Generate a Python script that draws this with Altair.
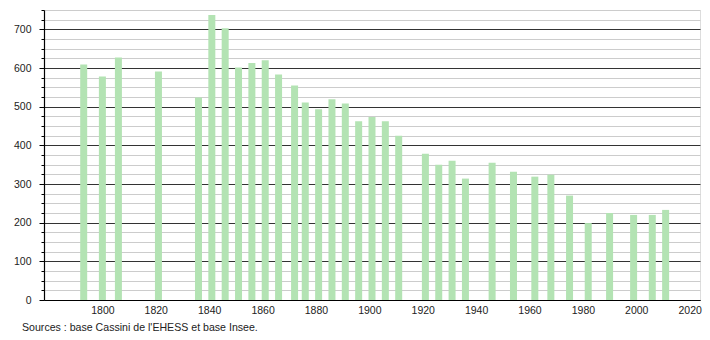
import altair as alt
import pandas as pd

years = [1793, 1800, 1806, 1821, 1836, 1841, 1846, 1851, 1856, 1861, 1866,
         1872, 1876, 1881, 1886, 1891, 1896, 1901, 1906, 1911, 1921, 1926,
         1931, 1936, 1946, 1954, 1962, 1968, 1975, 1982, 1990, 1999, 2006, 2011]
population = [609, 578, 627, 591, 524, 737, 703, 601, 613, 620, 583,
              555, 511, 493, 519, 508, 462, 473, 462, 425, 378, 350,
              360, 314, 355, 332, 319, 324, 270, 199, 225, 220, 220, 233]
x_ticks = [1800, 1820, 1840, 1860, 1880, 1900, 1920, 1940, 1960, 1980, 2000, 2020]
y_ticks = list(range(0, 751, 25))

df = pd.DataFrame({"year": years, "pop": population})

FONT = "Liberation Sans"

chart = alt.Chart(df).mark_bar(color="#b3e3b3", size=7).encode(
    x=alt.X("year:Q",
            scale=alt.Scale(domain=[1780, 2022], nice=False, zero=False),
            axis=alt.Axis(values=x_ticks, format="d", title=None, grid=False,
                          ticks=False, domainColor="#000", domainWidth=1.2,
                          labelFont=FONT, labelFontSize=10.5, labelColor="#222",
                          labelPadding=5, labelOverlap=False)),
    y=alt.Y("pop:Q",
            scale=alt.Scale(domain=[0, 750], nice=False),
            axis=alt.Axis(values=y_ticks, title=None, grid=True,
                          gridColor={"condition": {"test": "datum.value % 100 === 0", "value": "#333333"}, "value": "#cccccc"},
                          gridWidth=1,
                          tickColor="#000",
                          tickSize={"condition": {"test": "datum.value % 100 === 0", "value": 5}, "value": 3},
                          labelExpr="datum.value % 100 === 0 ? datum.label : ''",
                          domainColor="#000", domainWidth=1.2,
                          labelFont=FONT, labelFontSize=10.5, labelColor="#222",
                          labelPadding=8, labelOverlap=False)),
).properties(
    width=656,
    height=290,
    padding={"left": 44, "top": 10, "right": 10, "bottom": 40},
    autosize=alt.AutoSizeParams(type="none"),
    title=alt.TitleParams("Sources : base Cassini de l'EHESS et base Insee.",
                          orient="bottom", anchor="start", frame="group",
                          dx=-22, offset=7,
                          font=FONT, fontSize=10.6, fontWeight="normal", color="#222"),
).configure_view(stroke=None).configure(background="white")

chart.save("out.html", embed_options={"renderer": "svg", "actions": False})
